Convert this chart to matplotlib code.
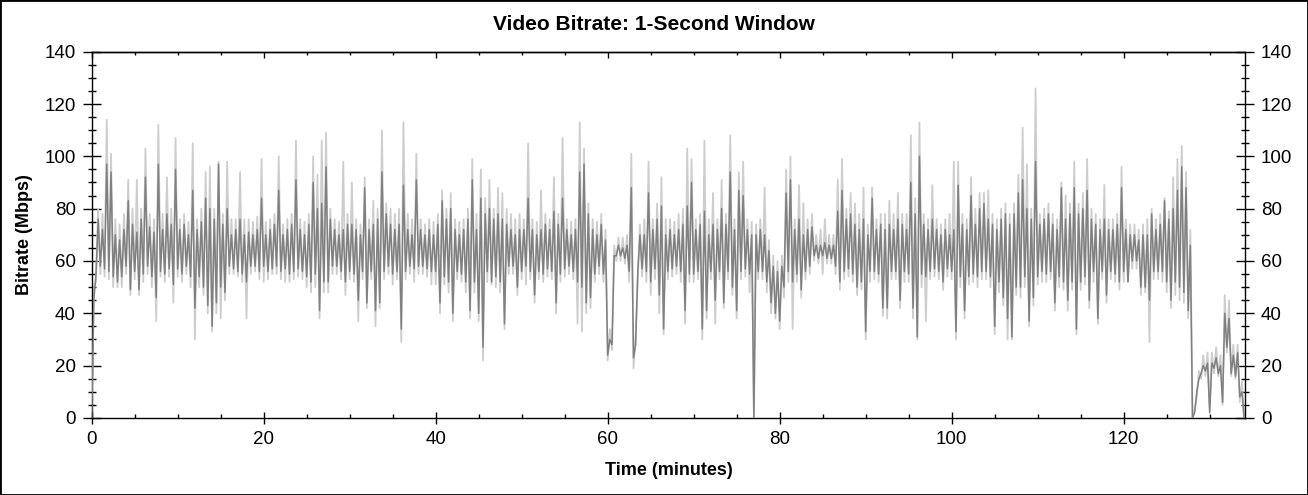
import numpy as np
import matplotlib
matplotlib.use("Agg")
import matplotlib.pyplot as plt
from matplotlib.ticker import MultipleLocator
from matplotlib.patches import Rectangle

plt.rcParams['font.family'] = ['Liberation Sans', 'DejaVu Sans']

# Time grid step (minutes); each step holds a low and a high reading of the 1-second bitrate
time_step_min = 0.5

# Dark series (Mbps): low / high readings per half-minute
dark_lo = [
    0, 55, 58, 57, 56, 54, 52, 54, 58, 49, 56, 49, 55, 58, 54, 46, 56, 55, 57, 51,
    57, 55, 58, 54, 42, 54, 50, 43, 35, 44, 50, 48, 58, 57, 56, 55, 52, 58, 58, 56,
    58, 56, 57, 58, 56, 57, 55, 56, 57, 56, 54, 52, 55, 41, 52, 52, 58, 58, 56, 52,
    56, 55, 45, 56, 44, 56, 41, 44, 56, 58, 55, 56, 34, 56, 58, 57, 58, 58, 57, 56,
    56, 44, 54, 52, 40, 56, 55, 52, 41, 52, 40, 27, 56, 52, 54, 52, 36, 58, 58, 50,
    56, 58, 56, 47, 56, 55, 57, 56, 44, 55, 57, 58, 56, 52, 50, 44, 46, 55, 58, 55,
    24, 28, 62, 62, 61, 56, 23, 56, 57, 56, 52, 57, 47, 34, 56, 57, 58, 56, 41, 55,
    55, 56, 34, 41, 56, 45, 56, 44, 56, 50, 41, 56, 57, 55, 0, 56, 56, 52, 44, 40,
    37, 50, 56, 52, 55, 49, 56, 58, 62, 61, 62, 61, 61, 58, 52, 56, 57, 55, 50, 52,
    33, 56, 56, 55, 42, 42, 56, 56, 45, 56, 55, 42, 31, 55, 54, 56, 57, 56, 52, 57,
    56, 33, 54, 41, 54, 55, 54, 56, 56, 54, 35, 52, 46, 38, 31, 50, 50, 54, 37, 46,
    54, 56, 55, 56, 44, 54, 52, 45, 52, 34, 52, 54, 45, 56, 38, 56, 47, 56, 55, 52,
    56, 52, 60, 60, 50, 50, 45, 56, 56, 56, 52, 45, 52, 50, 48, 41, 0, 10, 17, 18,
    2, 19, 17, 6, 27, 17, 16, 8, 0,
]
dark_hi = [
    45, 76, 72, 97, 94, 70, 68, 72, 83, 74, 71, 76, 92, 73, 71, 97, 72, 78, 74, 95,
    72, 74, 70, 87, 72, 75, 84, 80, 76, 97, 74, 80, 70, 72, 76, 70, 71, 70, 72, 84,
    70, 72, 74, 87, 70, 72, 74, 91, 72, 70, 74, 90, 80, 82, 96, 76, 72, 70, 72, 74,
    74, 72, 70, 88, 72, 74, 76, 94, 78, 74, 72, 74, 89, 72, 70, 91, 72, 70, 72, 70,
    74, 83, 76, 80, 72, 70, 72, 76, 91, 72, 84, 78, 80, 76, 78, 76, 74, 72, 70, 72,
    72, 84, 72, 70, 72, 74, 72, 79, 74, 84, 72, 70, 72, 94, 97, 78, 72, 70, 74, 68,
    30, 62, 66, 65, 66, 88, 28, 70, 70, 86, 72, 76, 81, 70, 72, 70, 72, 74, 81, 90,
    72, 74, 79, 70, 74, 72, 80, 74, 94, 72, 87, 85, 72, 70, 70, 72, 70, 64, 58, 56,
    58, 86, 91, 72, 76, 70, 72, 73, 66, 66, 67, 66, 66, 79, 87, 76, 78, 74, 72, 76,
    70, 84, 72, 74, 72, 74, 72, 76, 74, 72, 90, 78, 100, 74, 72, 76, 72, 70, 72, 70,
    72, 89, 74, 72, 85, 74, 80, 82, 76, 74, 72, 76, 78, 74, 78, 86, 91, 80, 76, 98,
    74, 76, 78, 74, 72, 88, 76, 78, 88, 78, 80, 87, 76, 74, 72, 76, 72, 72, 74, 88,
    72, 70, 70, 68, 70, 70, 78, 72, 74, 83, 76, 80, 87, 96, 88, 66, 2, 15, 20, 21,
    21, 23, 20, 40, 38, 24, 25, 10, 0,
]

# Light series (Mbps): low / high readings per half-minute
light_lo = [
    0, 52, 55, 54, 53, 50, 50, 50, 55, 47, 53, 47, 52, 55, 50, 37, 54, 52, 54, 44,
    54, 52, 55, 50, 30, 50, 47, 40, 33, 40, 38, 45, 55, 55, 54, 52, 38, 55, 56, 53,
    52, 53, 55, 55, 53, 52, 52, 53, 54, 53, 50, 48, 50, 38, 48, 48, 55, 55, 53, 47,
    53, 52, 37, 53, 42, 53, 35, 42, 53, 55, 51, 53, 29, 53, 55, 52, 55, 55, 54, 51,
    51, 40, 51, 48, 37, 53, 52, 48, 38, 48, 37, 22, 52, 51, 50, 48, 34, 55, 55, 47,
    53, 51, 53, 44, 53, 52, 54, 53, 40, 52, 54, 55, 53, 36, 33, 40, 42, 52, 55, 52,
    22, 26, 60, 60, 59, 52, 19, 53, 54, 52, 47, 53, 40, 32, 53, 54, 55, 52, 36, 52,
    52, 53, 30, 38, 53, 36, 53, 42, 53, 47, 38, 53, 54, 48, 0, 53, 53, 48, 40, 38,
    34, 46, 52, 34, 52, 46, 53, 55, 60, 59, 55, 59, 59, 55, 49, 53, 54, 52, 47, 49,
    30, 52, 53, 52, 39, 38, 53, 53, 42, 52, 52, 38, 30, 50, 37, 53, 54, 53, 49, 54,
    53, 30, 50, 38, 51, 52, 50, 53, 53, 50, 32, 48, 43, 30, 30, 47, 46, 50, 35, 43,
    51, 52, 52, 53, 41, 50, 49, 41, 49, 32, 49, 51, 42, 52, 36, 53, 44, 53, 52, 49,
    52, 52, 57, 57, 47, 48, 29, 53, 53, 52, 48, 42, 47, 45, 44, 38, 0, 8, 15, 16,
    4, 17, 16, 5, 25, 16, 15, 6, 0,
]
light_hi = [
    50, 80, 78, 114, 101, 76, 74, 78, 91, 80, 91, 80, 103, 78, 76, 112, 78, 92, 80, 107,
    76, 78, 75, 105, 76, 80, 94, 96, 80, 98, 78, 98, 76, 76, 94, 76, 76, 75, 77, 99,
    75, 76, 78, 100, 74, 76, 78, 106, 76, 75, 78, 100, 93, 106, 109, 80, 76, 75, 98, 78,
    90, 76, 74, 92, 76, 83, 80, 110, 82, 80, 78, 80, 113, 78, 76, 101, 76, 74, 76, 75,
    78, 87, 80, 86, 76, 75, 76, 80, 99, 78, 95, 84, 91, 80, 88, 86, 80, 78, 76, 78,
    76, 105, 76, 75, 87, 78, 76, 92, 78, 107, 76, 75, 76, 113, 103, 82, 76, 75, 78, 72,
    34, 66, 69, 69, 70, 101, 32, 74, 76, 98, 76, 82, 92, 76, 76, 75, 78, 80, 103, 99,
    76, 78, 106, 76, 86, 76, 91, 78, 108, 76, 94, 98, 76, 75, 74, 76, 88, 68, 62, 60,
    62, 95, 100, 76, 89, 82, 76, 78, 70, 72, 76, 70, 70, 91, 99, 80, 86, 82, 78, 88,
    74, 88, 76, 78, 78, 83, 78, 86, 78, 78, 108, 84, 113, 78, 76, 89, 76, 74, 76, 78,
    98, 98, 78, 76, 92, 80, 86, 86, 87, 78, 76, 80, 82, 78, 82, 93, 111, 97, 80, 126,
    78, 80, 82, 78, 76, 90, 85, 82, 98, 82, 86, 99, 80, 78, 76, 89, 76, 76, 78, 96,
    76, 74, 74, 72, 74, 76, 80, 76, 78, 84, 79, 92, 99, 104, 94, 72, 3, 18, 24, 25,
    25, 27, 24, 47, 45, 28, 28, 14, 0,
]

x_ticks = [0, 20, 40, 60, 80, 100, 120]
y_ticks = [0, 20, 40, 60, 80, 100, 120, 140]

n = len(dark_lo)
t = np.arange(n) * time_step_min
tx = np.column_stack([t, t + time_step_min / 2]).ravel()
dark = np.column_stack([dark_lo, dark_hi]).ravel()
light = np.column_stack([light_lo, light_hi]).ravel()

fig = plt.figure(figsize=(13.08, 4.95), dpi=100)
ax = fig.add_axes([0.0701, 0.1556, 0.8817, 0.7400])

ax.plot(tx, light, color='#cdcdcd', lw=1.3, zorder=2)
ax.plot(tx, dark, color='#808080', lw=1.1, zorder=3)

ax.set_xlim(0, 134.1)
ax.set_ylim(0, 140)
ax.set_xticks(x_ticks)
ax.set_yticks(y_ticks)
ax.xaxis.set_minor_locator(MultipleLocator(5))
ax.yaxis.set_minor_locator(MultipleLocator(5))

for s in ax.spines.values():
    s.set_linewidth(1.0)
    s.set_color('black')

ax.tick_params(axis='y', which='major', direction='inout', length=13, width=1,
               left=True, right=True, labelleft=True, labelright=True,
               labelsize=13.5, pad=5)
ax.tick_params(axis='y', which='minor', direction='inout', length=5.5, width=1,
               left=True, right=True)
ax.tick_params(axis='x', which='major', direction='inout', length=8.5, width=1,
               bottom=True, top=False, labelsize=13.5, pad=5)
ax.tick_params(axis='x', which='minor', direction='in', length=3, width=1,
               bottom=True, top=False)

top = ax.secondary_xaxis('top')
top.set_xticks(x_ticks)
top.xaxis.set_minor_locator(MultipleLocator(5))
top.tick_params(which='major', direction='in', length=4.5, width=1, labeltop=False)
top.tick_params(which='minor', direction='in', length=2.5, width=1)
top.spines['top'].set_linewidth(1.0)

fig.text(0.5, 0.951, 'Video Bitrate: 1-Second Window', ha='center', va='center',
         fontsize=15, fontweight='bold')
fig.text(0.511, 0.049, 'Time (minutes)', ha='center', va='center',
         fontsize=13, fontweight='bold')
fig.text(0.0185, 0.527, 'Bitrate (Mbps)', ha='center', va='center',
         rotation=90, fontsize=13, fontweight='bold')

fig.add_artist(Rectangle((0, 0), 1, 1, transform=fig.transFigure, fill=False,
                         edgecolor='black', linewidth=2))

fig.savefig('out.png', dpi=100)
